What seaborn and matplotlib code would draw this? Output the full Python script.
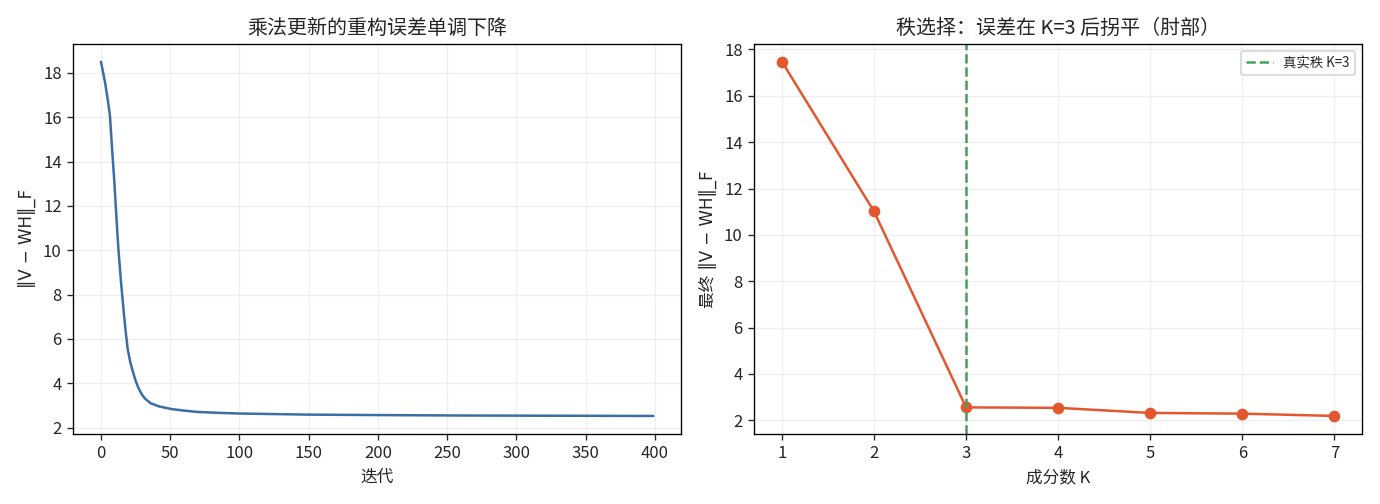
import seaborn as sns
import pandas as pd
import matplotlib.pyplot as plt

# left panel: reconstruction error per iteration
iters = [0, 3, 5, 6.5, 8, 9.7, 11.1, 12.6, 14.5, 16.7, 18, 19.3, 21, 22.7,
         25, 27, 29.5, 32, 36, 42, 51, 60, 70, 85, 100, 150, 200, 260, 330, 399]
errors = [18.5, 17.55, 16.75, 16.05, 14.6, 13.05, 11.55, 10.05, 8.55, 7.05,
          6.25, 5.55, 5.0, 4.6, 4.12, 3.8, 3.5, 3.3, 3.1, 2.96, 2.84, 2.77,
          2.71, 2.67, 2.64, 2.59, 2.57, 2.55, 2.54, 2.53]

# right panel: final error vs number of components
ks = [1, 2, 3, 4, 5, 6, 7]
final_err = [17.47, 11.01, 2.56, 2.54, 2.32, 2.29, 2.19]
true_k = 3

sns.set_style("ticks")
plt.rcParams['font.family'] = ['Noto Sans CJK SC', 'DejaVu Sans']
plt.rcParams['axes.unicode_minus'] = False
label_font = ['DejaVu Sans', 'Noto Sans CJK SC']

curve = pd.DataFrame({"iter": iters, "err": errors})
rank = pd.DataFrame({"k": ks, "err": final_err})

fig, axes = plt.subplots(1, 2, figsize=(11.5, 4.2), dpi=120)

ax = axes[0]
sns.lineplot(data=curve, x="iter", y="err", ax=ax, color="#3A6EA5", linewidth=1.5)
ax.set_title("乘法更新的重构误差单调下降")
ax.set_xlabel("迭代")
ax.set_ylabel("‖V − WH‖_F", family=label_font)
ax.set_xticks(range(0, 401, 50))
ax.set_yticks(range(2, 19, 2))
ax.grid(alpha=0.3)

ax = axes[1]
sns.lineplot(data=rank, x="k", y="err", ax=ax, color="#E4572E", marker="o",
             markersize=7, markeredgewidth=0, linewidth=1.5)
ax.axvline(true_k, color="#43A05A", linestyle="--", linewidth=1.5,
           label=f"真实秩 K={true_k}")
ax.set_title(f"秩选择：误差在 K={true_k} 后拐平（肘部）")
ax.set_xlabel("成分数 K")
ax.set_ylabel("最终 ‖V − WH‖_F", family=label_font)
ax.set_xticks(ks)
ax.set_yticks(range(2, 19, 2))
ax.grid(alpha=0.3)
ax.legend(loc="upper right", fontsize=8)

for a in axes:
    for s in a.spines.values():
        s.set_color("black")

plt.tight_layout()
plt.savefig("out.png")
